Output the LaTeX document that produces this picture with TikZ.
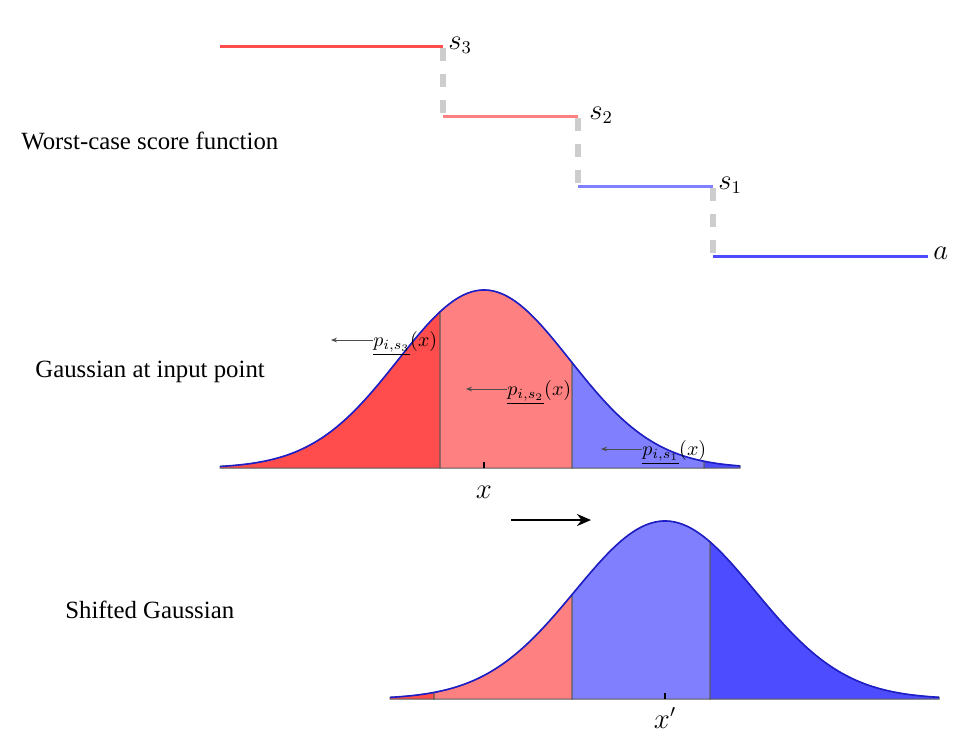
\documentclass[tikz,border=0pt]{standalone}
\usepackage{fontspec}
\setmainfont{Liberation Serif}
\usetikzlibrary{arrows.meta}
\definecolor{redA}{RGB}{255,77,77}
\definecolor{redB}{RGB}{255,128,128}
\definecolor{blueB}{RGB}{128,128,255}
\definecolor{blueA}{RGB}{77,77,255}
\definecolor{curveblue}{RGB}{30,30,200}
\definecolor{dashgray}{RGB}{205,205,205}
\newcommand\gA[1]{468-178*exp(-0.5*((#1-484)/86)^2)}
\newcommand\gB[1]{699-178*exp(-0.5*((#1-665)/90)^2)}
\begin{document}
\begin{tikzpicture}[x=0.5pt,y=-0.5pt,
  steplinestyle/.style={line width=1.5pt},
  riser/.style={dashgray,line width=3pt,dash pattern=on 6.5pt off 6.5pt,dash phase=-1pt},
  lefttext/.style={anchor=west,inner sep=0pt,font=\fontsize{12.4}{14}\selectfont},
  mathlab/.style={inner sep=0pt,font=\fontsize{13.5}{16}\selectfont},
  plab/.style={anchor=base west,inner sep=0pt,font=\fontsize{9.6}{11}\selectfont},
  parrow/.style={-{Stealth[length=3pt,width=2.4pt]},black!70,line width=0.5pt},
  region/.style={draw=black!65,line width=0.5pt},
  curve/.style={curveblue,line width=0.8pt},
  tick/.style={black,line width=1pt}]
\useasboundingbox (0,0) rectangle (972,736);

% ---------- step function ----------
\coordinate (a0) at (220,46);
\coordinate (a1) at (443,46);
\coordinate (b0) at (443,116);
\coordinate (b1) at (578,116);
\coordinate (c0) at (578,186);
\coordinate (c1) at (713,186);
\coordinate (d0) at (713,256);
\coordinate (d1) at (928,256);
\draw[riser] (a1) -- (b0);
\draw[riser] (b1) -- (c0);
\draw[riser] (c1) -- (d0);
\draw[steplinestyle,redA] (a0) -- (a1);
\draw[steplinestyle,redB] (b0) -- (b1);
\draw[steplinestyle,blueB] (c0) -- (c1);
\draw[steplinestyle,blueA] (d0) -- (d1);
\node[mathlab,anchor=base west] (s3) at (448,49) {$s_3$};
\node[mathlab,anchor=base west] (s2) at (589,119) {$s_2$};
\node[mathlab,anchor=base west] (s1) at (718,189) {$s_1$};
\node[mathlab,anchor=base west] (alab) at (933,259) {$a$};

\node[lefttext] (t1) at (21,141) {Worst-case score function};
\node[lefttext] (t2) at (35,372) {Gaussian at input point};
\node[lefttext] (t3) at (65,610) {Shifted Gaussian};

% ---------- Gaussian at input point ----------
\filldraw[region,fill=redA] plot[domain=220:440,samples=60] (\x,{\gA{\x}}) -- (440,468) -- (220,468) -- cycle;
\filldraw[region,fill=redB] plot[domain=440:572,samples=50] (\x,{\gA{\x}}) -- (572,468) -- (440,468) -- cycle;
\filldraw[region,fill=blueB] plot[domain=572:704,samples=50] (\x,{\gA{\x}}) -- (704,468) -- (572,468) -- cycle;
\filldraw[region,fill=blueA] plot[domain=704:740,samples=20] (\x,{\gA{\x}}) -- (740,468) -- (704,468) -- cycle;
\draw[curve] plot[domain=220:740,samples=160] (\x,{\gA{\x}});
\coordinate (xt) at (484,468);
\draw[tick] (xt) -- ++(0,-6);
\node[mathlab,anchor=base] (xlab) at (484,498) {$x$};

\node[plab] (p3) at (373,346) {$\underline{p_{i,s_3}}(x)$};
\node[plab] (p2) at (507,395) {$\underline{p_{i,s_2}}(x)$};
\node[plab] (p1) at (642,455) {$\underline{p_{i,s_1}}(x)$};
\coordinate (e3) at (331,340);
\coordinate (e2) at (466,389);
\coordinate (e1) at (601,449);
\draw[parrow] (p3.west |- e3) -- (e3);
\draw[parrow] (p2.west |- e2) -- (e2);
\draw[parrow] (p1.west |- e1) -- (e1);

% ---------- shift arrow ----------
\coordinate (sh0) at (511,520);
\coordinate (sh1) at (591,520);
\draw[-{Stealth[length=7pt,width=6pt]},black,line width=1pt] (sh0) -- (sh1);

% ---------- Shifted Gaussian ----------
\filldraw[region,fill=redA] plot[domain=390:434,samples=20] (\x,{\gB{\x}}) -- (434,699) -- (390,699) -- cycle;
\filldraw[region,fill=redB] plot[domain=434:572,samples=50] (\x,{\gB{\x}}) -- (572,699) -- (434,699) -- cycle;
\filldraw[region,fill=blueB] plot[domain=572:710,samples=50] (\x,{\gB{\x}}) -- (710,699) -- (572,699) -- cycle;
\filldraw[region,fill=blueA] plot[domain=710:939,samples=60] (\x,{\gB{\x}}) -- (939,699) -- (710,699) -- cycle;
\draw[curve] plot[domain=390:939,samples=160] (\x,{\gB{\x}});
\coordinate (xpt) at (665,699);
\draw[tick] (xpt) -- ++(0,-6);
\node[mathlab,anchor=base] (xplab) at (665,728) {$x'$};
\end{tikzpicture}
\end{document}
